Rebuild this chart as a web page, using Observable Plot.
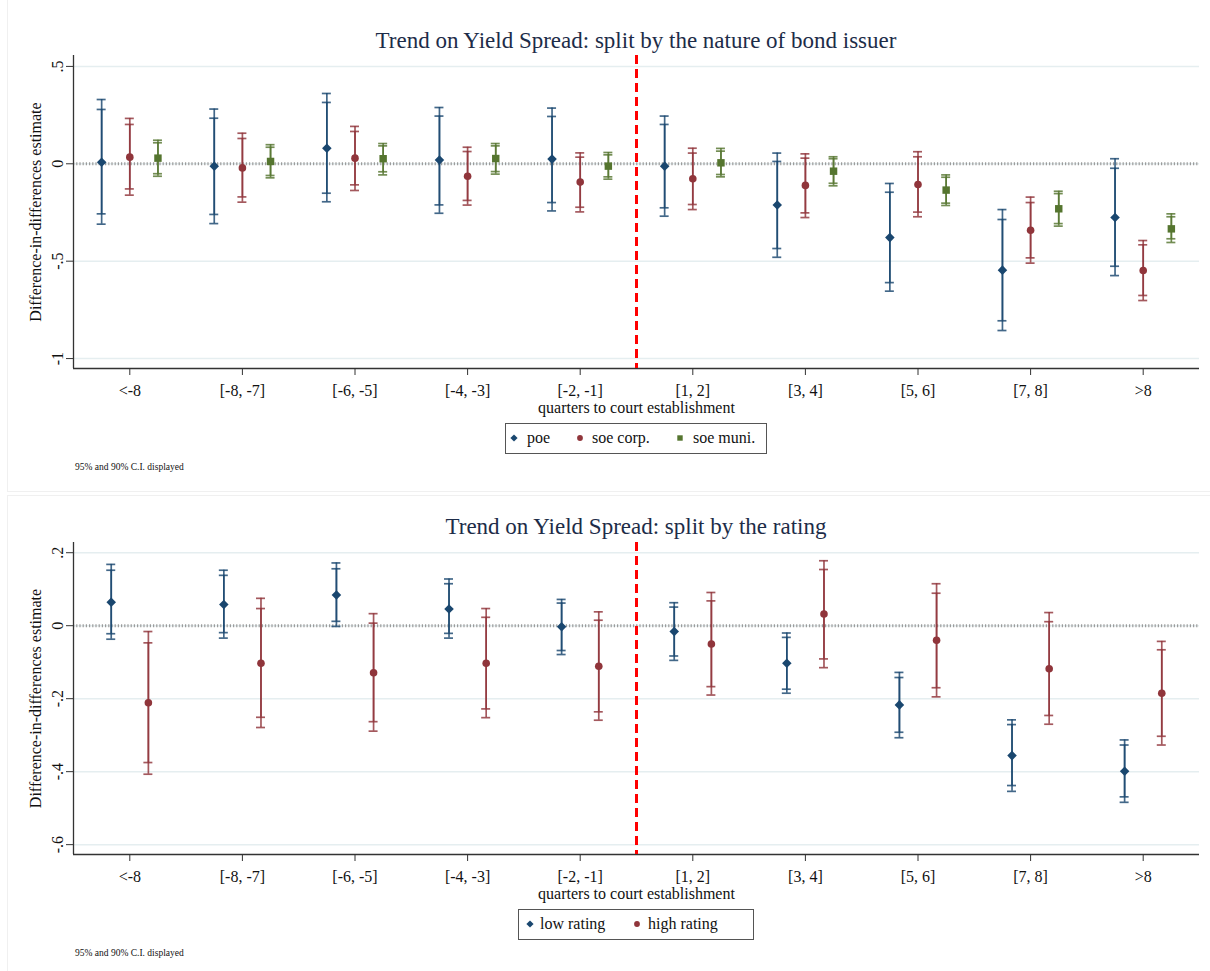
<!DOCTYPE html>
<html><head><meta charset="utf-8">
<script src="https://cdn.jsdelivr.net/npm/d3@7"></script>
<script src="https://cdn.jsdelivr.net/npm/@observablehq/plot@0.6"></script>
<style>
body{margin:0;background:#fff;font-family:"Liberation Serif","Times New Roman",serif;}
#root{position:relative;width:1210px;height:971px;overflow:hidden;background:#fff;}
.title{position:absolute;left:136px;width:1000px;text-align:center;font-size:23px;line-height:26px;color:#1d2c48;white-space:nowrap;}
.panel{position:absolute;left:0;}
.box{position:absolute;border:1px solid #f0f0f0;}
.legend{position:absolute;border:1.5px solid #555;background:#fff;box-sizing:border-box;height:31px;}
.legend .it{position:absolute;top:0;height:28px;line-height:28px;font-size:16px;color:#111;white-space:nowrap;}
.legend svg{position:absolute;top:9px;}
.note{position:absolute;left:75px;font-size:9.5px;color:#111;white-space:nowrap;}
</style></head>
<body><div id="root"></div>
<script>
// ---------- data ----------
const categories = ["<-8","[-8, -7]","[-6, -5]","[-4, -3]","[-2, -1]","[1, 2]","[3, 4]","[5, 6]","[7, 8]",">8"];
const xTitle = "quarters to court establishment";
const yTitle = "Difference-in-differences estimate";

// Panel 1: split by nature of bond issuer
const title1 = "Trend on Yield Spread: split by the nature of bond issuer";
const series1Names = ["poe","soe corp.","soe muni."];
const topYTicks = [-1,-0.5,0,0.5];
const poeEst  = [0.008,-0.012,0.080,0.020,0.024,-0.012,-0.212,-0.379,-0.546,-0.276];
const poeHi95 = [0.330,0.281,0.361,0.289,0.286,0.245,0.055,-0.101,-0.235,0.026];
const poeHi90 = [0.279,0.234,0.315,0.245,0.243,0.202,0.012,-0.146,-0.286,-0.023];
const poeLo90 = [-0.257,-0.260,-0.151,-0.211,-0.199,-0.226,-0.435,-0.610,-0.806,-0.526];
const poeLo95 = [-0.310,-0.307,-0.195,-0.254,-0.242,-0.269,-0.480,-0.654,-0.856,-0.574];

const corpEst  = [0.034,-0.021,0.029,-0.064,-0.094,-0.077,-0.111,-0.106,-0.341,-0.548];
const corpHi95 = [0.233,0.157,0.192,0.085,0.056,0.080,0.051,0.062,-0.171,-0.394];
const corpHi90 = [0.202,0.130,0.166,0.063,0.034,0.055,0.029,0.036,-0.199,-0.416];
const corpLo90 = [-0.129,-0.170,-0.108,-0.188,-0.223,-0.209,-0.252,-0.248,-0.483,-0.676];
const corpLo95 = [-0.161,-0.197,-0.137,-0.212,-0.247,-0.235,-0.276,-0.272,-0.510,-0.702];

const muniEst  = [0.029,0.012,0.026,0.027,-0.012,0.005,-0.038,-0.135,-0.231,-0.334];
const muniHi95 = [0.121,0.098,0.104,0.104,0.058,0.079,0.036,-0.057,-0.141,-0.257];
const muniHi90 = [0.108,0.085,0.092,0.092,0.046,0.065,0.026,-0.069,-0.153,-0.272];
const muniLo90 = [-0.051,-0.060,-0.041,-0.040,-0.067,-0.055,-0.100,-0.202,-0.307,-0.385];
const muniLo95 = [-0.064,-0.072,-0.057,-0.053,-0.079,-0.067,-0.113,-0.214,-0.320,-0.404];

// Panel 2: split by rating
const title2 = "Trend on Yield Spread: split by the rating";
const series2Names = ["low rating","high rating"];
const bottomYTicks = [-0.6,-0.4,-0.2,0,0.2];
const lowEst  = [0.064,0.058,0.084,0.046,-0.003,-0.016,-0.103,-0.217,-0.356,-0.399];
const lowHi95 = [0.168,0.152,0.172,0.128,0.072,0.063,-0.020,-0.128,-0.258,-0.313];
const lowHi90 = [0.152,0.138,0.156,0.115,0.062,0.051,-0.032,-0.142,-0.271,-0.327];
const lowLo90 = [-0.022,-0.019,0.012,-0.021,-0.068,-0.083,-0.174,-0.292,-0.438,-0.469];
const lowLo95 = [-0.037,-0.034,-0.002,-0.034,-0.079,-0.095,-0.185,-0.307,-0.454,-0.484];

const highEst  = [-0.211,-0.103,-0.129,-0.103,-0.111,-0.050,0.032,-0.040,-0.118,-0.185];
const highHi95 = [-0.016,0.075,0.033,0.047,0.038,0.091,0.178,0.115,0.036,-0.043];
const highHi90 = [-0.047,0.047,0.007,0.023,0.015,0.068,0.154,0.089,0.011,-0.066];
const highLo90 = [-0.375,-0.251,-0.263,-0.228,-0.236,-0.167,-0.091,-0.170,-0.246,-0.303];
const highLo95 = [-0.407,-0.279,-0.289,-0.252,-0.259,-0.190,-0.115,-0.195,-0.270,-0.327];

const note = "95% and 90% C.I. displayed";
const NAVY = "#1a476f", MAROON = "#90353b", GREEN = "#55752f";

// ---------- helpers ----------
const fmtY = d => String(d).replace(/^(-?)0\./, "$1.");

function makeRows(est, lo95, lo90, hi90, hi95, offset) {
  return categories.map((c, i) => ({cat: c, x: i + offset, est: est[i], lo95: lo95[i], lo90: lo90[i], hi90: hi90[i], hi95: hi95[i]}));
}

function panel({series, yDomain, yTicks, marginTop}) {
  const marks = [
    Plot.gridY(yTicks, {stroke: "#e5eef0", strokeOpacity: 1, strokeWidth: 1.5}),
    Plot.ruleY([0], {stroke: "#9c9c9c", strokeWidth: 3, strokeDasharray: "1.2,2"}),
    Plot.ruleX([-0.5], {stroke: "#333", strokeWidth: 1.3}),
    Plot.ruleY([yDomain[0]], {stroke: "#333", strokeWidth: 1.3}),
    Plot.ruleX([4.5], {stroke: "#ff0000", strokeWidth: 3, strokeDasharray: "9,5"})
  ];
  for (const s of series) {
    const rows = s.rows;
    const st = {stroke: s.color, strokeWidth: 1.7, strokeOpacity: 0.82};
    marks.push(Plot.ruleX(rows, {x: "x", y1: "lo95", y2: "hi95", ...st}));
    marks.push(Plot.ruleX(rows, {x: "x", y1: "lo90", y2: "hi90", ...st}));
    for (const k of ["lo95", "hi95", "lo90", "hi90"]) {
      marks.push(Plot.ruleY(rows, {y: k, x1: "x", x2: "x", insetLeft: -4.5, insetRight: -4.5, ...st}));
    }
    marks.push(Plot.dot(rows, {x: "x", y: "est", symbol: s.symbol, r: s.r, fill: s.color, stroke: "none"}));
  }
  marks.push(Plot.axisX({ticks: d3.range(categories.length), tickFormat: i => categories[i], tickSize: 7, tickPadding: 9,
    stroke: "#333", fill: "#111", label: xTitle, labelAnchor: "center", labelOffset: 44, labelArrow: "none"}));
  marks.push(Plot.axisY({ticks: yTicks, tickFormat: fmtY, tickRotate: -90, tickSize: 7, tickPadding: 4,
    stroke: "#333", fill: "#111", label: yTitle, labelAnchor: "center", labelOffset: 44, labelArrow: "none"}));
  return Plot.plot({
    width: 1210, height: 430,
    marginTop, marginBottom: 62, marginLeft: 73, marginRight: 11,
    style: {fontFamily: '"Liberation Serif","Times New Roman",serif', fontSize: "16px", background: "transparent", color: "#111"},
    x: {type: "linear", domain: [-0.5, categories.length - 0.5]},
    y: {domain: yDomain},
    marks
  });
}

const root = document.getElementById("root");
function add(html) { const d = document.createElement("div"); d.innerHTML = html; const el = d.firstElementChild; root.appendChild(el); return el; }

// faint panel borders
add(`<div class="box" style="left:7px;top:-2px;width:1210px;height:492px;"></div>`);
add(`<div class="box" style="left:7px;top:495px;width:1210px;height:480px;"></div>`);

// ---------- top panel ----------
const p1 = panel({
  marginTop: 55,
  yDomain: [-1.051, 0.556], yTicks: topYTicks,
  series: [
    {rows: makeRows(poeEst, poeLo95, poeLo90, poeHi90, poeHi95, -0.25), color: NAVY, symbol: "diamond2", r: 4.3},
    {rows: makeRows(corpEst, corpLo95, corpLo90, corpHi90, corpHi95, 0), color: MAROON, symbol: "circle", r: 3.8},
    {rows: makeRows(muniEst, muniLo95, muniLo90, muniHi90, muniHi95, 0.25), color: GREEN, symbol: "square", r: 4.2}
  ]
});
const w1 = add(`<div class="panel" style="top:0px"></div>`); w1.appendChild(p1);
add(`<div class="title" style="top:28px">${title1}</div>`);

const diamond = c => `<svg width="10" height="10" viewBox="-5 -5 10 10"><path d="M0,-3.6L3.6,0L0,3.6L-3.6,0Z" fill="${c}"/></svg>`;
const circle = c => `<svg width="10" height="10" viewBox="-5 -5 10 10"><circle r="2.9" fill="${c}"/></svg>`;
const square = c => `<svg width="10" height="10" viewBox="-5 -5 10 10"><rect x="-2.7" y="-2.7" width="5.4" height="5.4" fill="${c}"/></svg>`;

add(`<div class="legend" style="left:505px;top:423px;width:262px;">
  <span style="position:absolute;left:3px;">${diamond(NAVY)}</span><span class="it" style="left:21px">${series1Names[0]}</span>
  <span style="position:absolute;left:69px;">${circle(MAROON)}</span><span class="it" style="left:86px">${series1Names[1]}</span>
  <span style="position:absolute;left:169px;">${square(GREEN)}</span><span class="it" style="left:187px">${series1Names[2]}</span>
</div>`);
add(`<div class="note" style="top:462px">${note}</div>`);

// ---------- bottom panel ----------
const p2 = panel({
  marginTop: 56,
  yDomain: [-0.627, 0.228], yTicks: bottomYTicks,
  series: [
    {rows: makeRows(lowEst, lowLo95, lowLo90, lowHi90, lowHi95, -0.165), color: NAVY, symbol: "diamond2", r: 4.3},
    {rows: makeRows(highEst, highLo95, highLo90, highHi90, highHi95, 0.165), color: MAROON, symbol: "circle", r: 3.8}
  ]
});
const w2 = add(`<div class="panel" style="top:486px"></div>`); w2.appendChild(p2);
add(`<div class="title" style="top:514px">${title2}</div>`);
add(`<div class="legend" style="left:518px;top:909px;width:236px;">
  <span style="position:absolute;left:6px;">${diamond(NAVY)}</span><span class="it" style="left:21px">${series2Names[0]}</span>
  <span style="position:absolute;left:113px;">${circle(MAROON)}</span><span class="it" style="left:129px">${series2Names[1]}</span>
</div>`);
add(`<div class="note" style="top:948px">${note}</div>`);
</script>
</body></html>
